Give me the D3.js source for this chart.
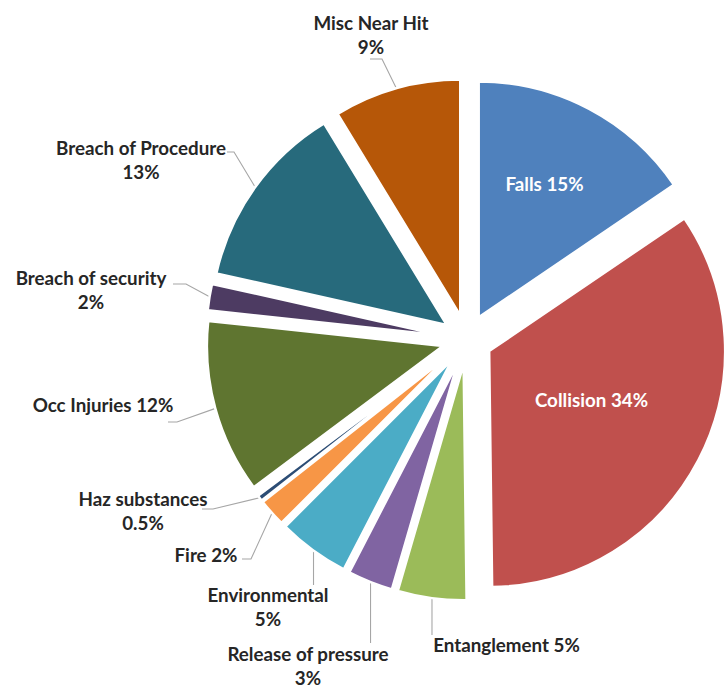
<!DOCTYPE html>
<html>
<head>
<meta charset="utf-8">
<script src="https://cdn.jsdelivr.net/npm/d3@7"></script>
<style>
  html, body { margin: 0; padding: 0; background: #fff; }
  svg { display: block; }
  text { font-family: Lato, "Open Sans", sans-serif; font-weight: 700; }
</style>
</head>
<body>
<div id="chart"></div>
<script>
// ---- data ----
const categories = ["Falls", "Collision", "Entanglement", "Release of pressure", "Environmental",
  "Fire", "Haz substances", "Occ Injuries", "Breach of security", "Breach of Procedure", "Misc Near Hit"];
const values = [15.5, 34.3, 4.7, 3.1, 4.9, 1.9, 0.4, 11.9, 1.8, 12.8, 8.7];
const pctLabels = ["15%", "34%", "5%", "3%", "5%", "2%", "0.5%", "12%", "2%", "13%", "9%"];
const colors = ["#4F81BD", "#C0504D", "#9BBB59", "#8064A2", "#4BACC6", "#F79646",
  "#2C4D75", "#5F7530", "#4D3B62", "#276A7C", "#B65708"];

// ---- layout (label placement, not data) ----
const W = 727, H = 687;
const cx = 467, cy = 339.5, R = 236, explode = 25;
const labelLayout = [
  { x: 544.5, y: 191, two: false, inside: true },
  { x: 591.5, y: 407, two: false, inside: true },
  { x: 506.5, y: 652, two: false, vy: 635 },
  { x: 308, y: 661, two: true, vy: 643 },
  { x: 268, y: 602, two: true, vy: 585 },
  { x: 206, y: 562, two: false, elbow: [251, 559], end: [242, 559] },
  { x: 143, y: 506, two: true, elbow: [213, 509], end: [202, 509] },
  { x: 103, y: 412, two: false, elbow: [177, 422], end: [168, 422] },
  { x: 91, y: 285, two: true, elbow: [186, 284], end: [173, 284] },
  { x: 141, y: 155, two: true, elbow: [234, 152], end: [227, 152] },
  { x: 371, y: 30, two: true, elbow: [382, 59], end: [370, 59] }
];
const refWidths = [77, 111, 147, 164, 123, 60, 128, 140, 152, 172, 115];
const lineGap = 23.5;

const svg = d3.select("#chart").append("svg")
  .attr("width", W).attr("height", H).attr("viewBox", `0 0 ${W} ${H}`);

const pie = d3.pie().sort(null).value(d => d);
const arcs = pie(values);
const arc = d3.arc().innerRadius(0).outerRadius(R);

function offset(a) {
  const m = (a.startAngle + a.endAngle) / 2;
  return [cx + explode * Math.sin(m), cy - explode * Math.cos(m)];
}
function arcPoint(a, r) {
  const m = (a.startAngle + a.endAngle) / 2;
  const o = offset(a);
  return [o[0] + r * Math.sin(m), o[1] - r * Math.cos(m)];
}

// leader lines
const gLines = svg.append("g");
arcs.forEach((a, i) => {
  const L = labelLayout[i];
  if (L.inside) return;
  const p0 = arcPoint(a, R - 1);
  const pts = L.elbow ? [p0, L.elbow, L.end] : [p0, [p0[0], L.vy]];
  gLines.append("path")
    .attr("d", d3.line()(pts))
    .attr("fill", "none")
    .attr("stroke", "#a6a6a6")
    .attr("stroke-width", 1.1);
});

// slices
svg.append("g").selectAll("path")
  .data(arcs)
  .join("path")
  .attr("transform", d => `translate(${offset(d)[0]},${offset(d)[1]})`)
  .attr("d", arc)
  .attr("fill", (d, i) => colors[i])
  .attr("stroke", "#fff")
  .attr("stroke-width", 2.5)
  .attr("stroke-linejoin", "round");

// labels
const gText = svg.append("g");
const firstLines = categories.map((c, i) => labelLayout[i].two ? c : c + " " + pctLabels[i]);

const probe = gText.append("text").attr("font-size", 100);
let measured = 0, refTotal = 0;
firstLines.forEach((t, i) => { probe.text(t); measured += probe.node().getComputedTextLength(); refTotal += refWidths[i]; });
probe.remove();
const fontSize = 100 * refTotal / measured;

categories.forEach((c, i) => {
  const L = labelLayout[i];
  const t = gText.append("text")
    .attr("x", L.x).attr("y", L.y)
    .attr("text-anchor", "middle")
    .attr("font-size", fontSize)
    .attr("fill", L.inside ? "#ffffff" : "#262626");
  t.append("tspan").attr("x", L.x).text(firstLines[i]);
  if (L.two) t.append("tspan").attr("x", L.x).attr("dy", lineGap).text(pctLabels[i]);
});
</script>
</body>
</html>
